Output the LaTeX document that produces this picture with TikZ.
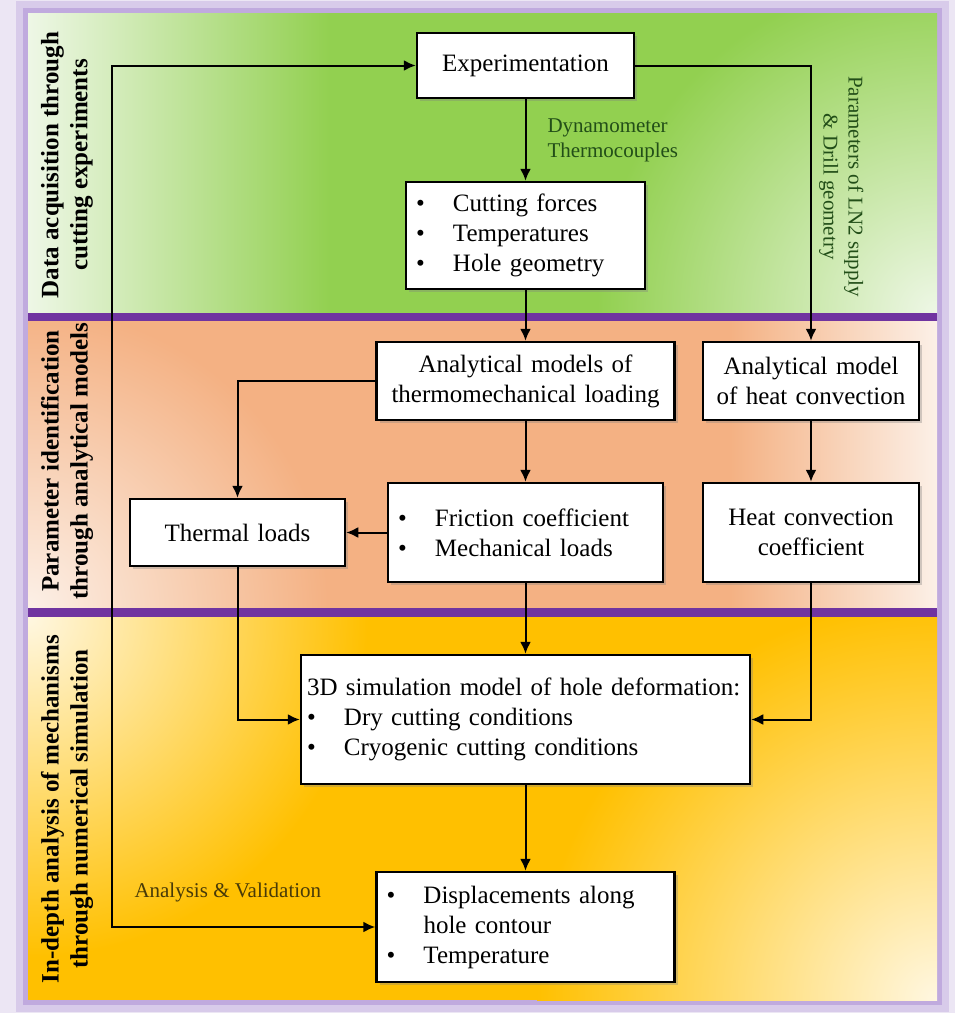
\documentclass[tikz,border=0pt]{standalone}
\usepackage{fontspec}
\setmainfont{Liberation Serif}
\usepackage{tikz}
\usetikzlibrary{calc}
\usetikzlibrary{shapes,arrows,arrows.meta,shadows,positioning}

\definecolor{framelav}{RGB}{236,230,244}
\definecolor{frameglow}{RGB}{192,170,222}
\definecolor{divpurple}{RGB}{112,52,160}
\definecolor{greenbase}{RGB}{146,208,80}
\definecolor{greenlight}{RGB}{238,247,230}
\definecolor{salmonbase}{RGB}{244,177,131}
\definecolor{salmonlight}{RGB}{252,240,231}
\definecolor{orangebase}{RGB}{255,192,0}
\definecolor{orangelight}{RGB}{255,247,225}
\definecolor{lblgreen}{RGB}{34,78,24}
\definecolor{lblolive}{RGB}{72,58,8}

\tikzstyle{block} = [rectangle, draw, line width=2.5pt, fill=white, inner xsep=10pt, font=\fontsize{25}{30}\selectfont, drop shadow={shadow xshift=3pt, shadow yshift=-3pt, opacity=0.35}]
\tikzstyle{cblock} = [block, align=center]
\tikzstyle{lblock} = [block, align=left]
\tikzstyle{side} = [rotate=90, align=center, font=\bfseries\fontsize{25}{29}\selectfont]
\tikzstyle{lbl} = [font=\fontsize{21}{25}\selectfont, inner sep=7pt]
\tikzstyle{line} = [draw, line width=2pt, -{Latex[length=12pt, width=11pt]}]
\tikzstyle{bline} = [draw, line width=2pt, {Latex[length=12pt, width=11pt]}-{Latex[length=12pt, width=11pt]}]

\newcommand{\bul}{\makebox[37pt][l]{\textbullet}}
% light spot over a band: x, y, radius, light colour, band colour
\newcommand{\glow}[5]{%
  \begin{scope}
    \clip (#1,#2) circle (#3);
    \shade[inner color=#4, outer color=#5] ({#1-#3},{#2-#3}) rectangle ({#1+#3},{#2+#3});
  \end{scope}}
% horizontal fade: x0, x1, y0, y1, left colour, right colour
\newcommand{\fadestrip}[6]{%
  \shade[left color=#5, right color=#6] (#1,#3) rectangle (#2,#4);}

\begin{document}
\begin{tikzpicture}[node distance = 150pt, auto, x=1pt, y=1pt]
    \useasboundingbox (0,0) rectangle (955,-1013);
    % frame
    \fill[framelav] (0,0) rectangle (955,-1013);
    \draw[frameglow!45!framelav, line width=24pt] (28,-13) rectangle (937,-1000);
    \draw[frameglow, line width=10pt] (28,-13) rectangle (937,-1000);
    % bands
    \begin{scope}
      \clip (28,-13) rectangle (937,-313);
      \fill[greenbase] (28,-13) rectangle (937,-313);
      \glow{937}{-313}{340}{greenlight}{greenbase}
      \fadestrip{28}{330}{-13}{-313}{greenlight}{greenbase}
    \end{scope}
    \begin{scope}
      \clip (28,-321) rectangle (937,-608);
      \fill[salmonbase] (28,-321) rectangle (937,-608);
      \glow{28}{-608}{300}{salmonlight}{salmonbase}
      \fadestrip{730}{937}{-321}{-608}{salmonbase}{salmonlight}
    \end{scope}
    \begin{scope}
      \clip (28,-617) rectangle (937,-1000);
      \fill[orangebase] (28,-617) rectangle (937,-1000);
      \glow{28}{-617}{340}{orangelight}{orangebase}
      \glow{937}{-1000}{400}{orangelight}{orangebase}
    \end{scope}
    \fill[divpurple] (28,-313) rectangle (937,-321);
    \fill[divpurple] (28,-608) rectangle (937,-617);

    \node [side] (sec1) at (67,-165) {Data acquisition through\\cutting experiments};
    \node [side] (sec2) at (67,-461) {Parameter identification\\through analytical models};
    \node [side] (sec3) at (67,-809) {In-depth analysis of mechanisms\\through numerical simulation};

    \node [cblock, text width=197pt, minimum height=65pt] (exp) at (525.5,-65.5) {Experimentation};
    \node [lblock, below of=exp, node distance=170pt, text width=219pt, minimum height=107pt] (cut) {\bul Cutting forces\\ \bul Temperatures\\ \bul Hole geometry};
    \node [cblock, below of=cut, node distance=145.5pt, text width=278pt, minimum height=78pt] (anam) {Analytical models of\\thermomechanical loading};
    \node [cblock, right of=anam, node distance=285.5pt, text width=196pt, minimum height=78pt] (anah) {Analytical model\\of heat convection};
    \node [lblock, below of=anam, node distance=151.5pt, text width=255pt, minimum height=99pt] (fric) {\bul Friction coefficient\\ \bul Mechanical loads};
    \node [cblock, below of=anah, node distance=151.5pt, text width=196pt, minimum height=99pt] (hcoef) {Heat convection\\coefficient};
    \node [cblock, left of=fric, node distance=288pt, text width=195pt, minimum height=67pt] (therm) {Thermal loads};
    \node [lblock, below of=fric, node distance=187pt, inner xsep=6pt, text width=437pt, minimum height=129pt] (sim) {\mbox{3D simulation model of hole deformation:}\\ \bul Dry cutting conditions\\ \bul Cryogenic cutting conditions};
    \node [lblock, below of=sim, node distance=207.5pt, text width=278pt, minimum height=110pt] (disp) {\bul Displacements along\\ \hspace*{37pt}hole contour\\ \bul Temperature};
    \coordinate (loop) at (112,-500);

    \path [line] (exp) -- node [lbl, text=lblgreen, align=left, xshift=14pt] (dyn) {Dynamometer\\Thermocouples} (cut);
    \path [line] (cut) -- (anam);
    \path [line] (exp) -| node [lbl, text=lblgreen, align=center, pos=0.72, anchor=south, rotate=-90] (ln2) {Parameters of LN2 supply\\\& Drill geometry} (anah);
    \path [line] (anam) -- (fric);
    \path [line] (anah) -- (hcoef);
    \path [line] (anam) -| (therm);
    \path [line] (fric) -- (therm);
    \path [line] (therm) |- (sim);
    \path [line] (fric) -- (sim);
    \path [line] (hcoef) |- (sim);
    \path [line] (sim) -- (disp);
    \path [bline] (exp) -| (loop) |- node [lbl, text=lblolive, pos=0.72, above=17pt] (valid) {Analysis \& Validation} (disp);
\end{tikzpicture}
\end{document}
